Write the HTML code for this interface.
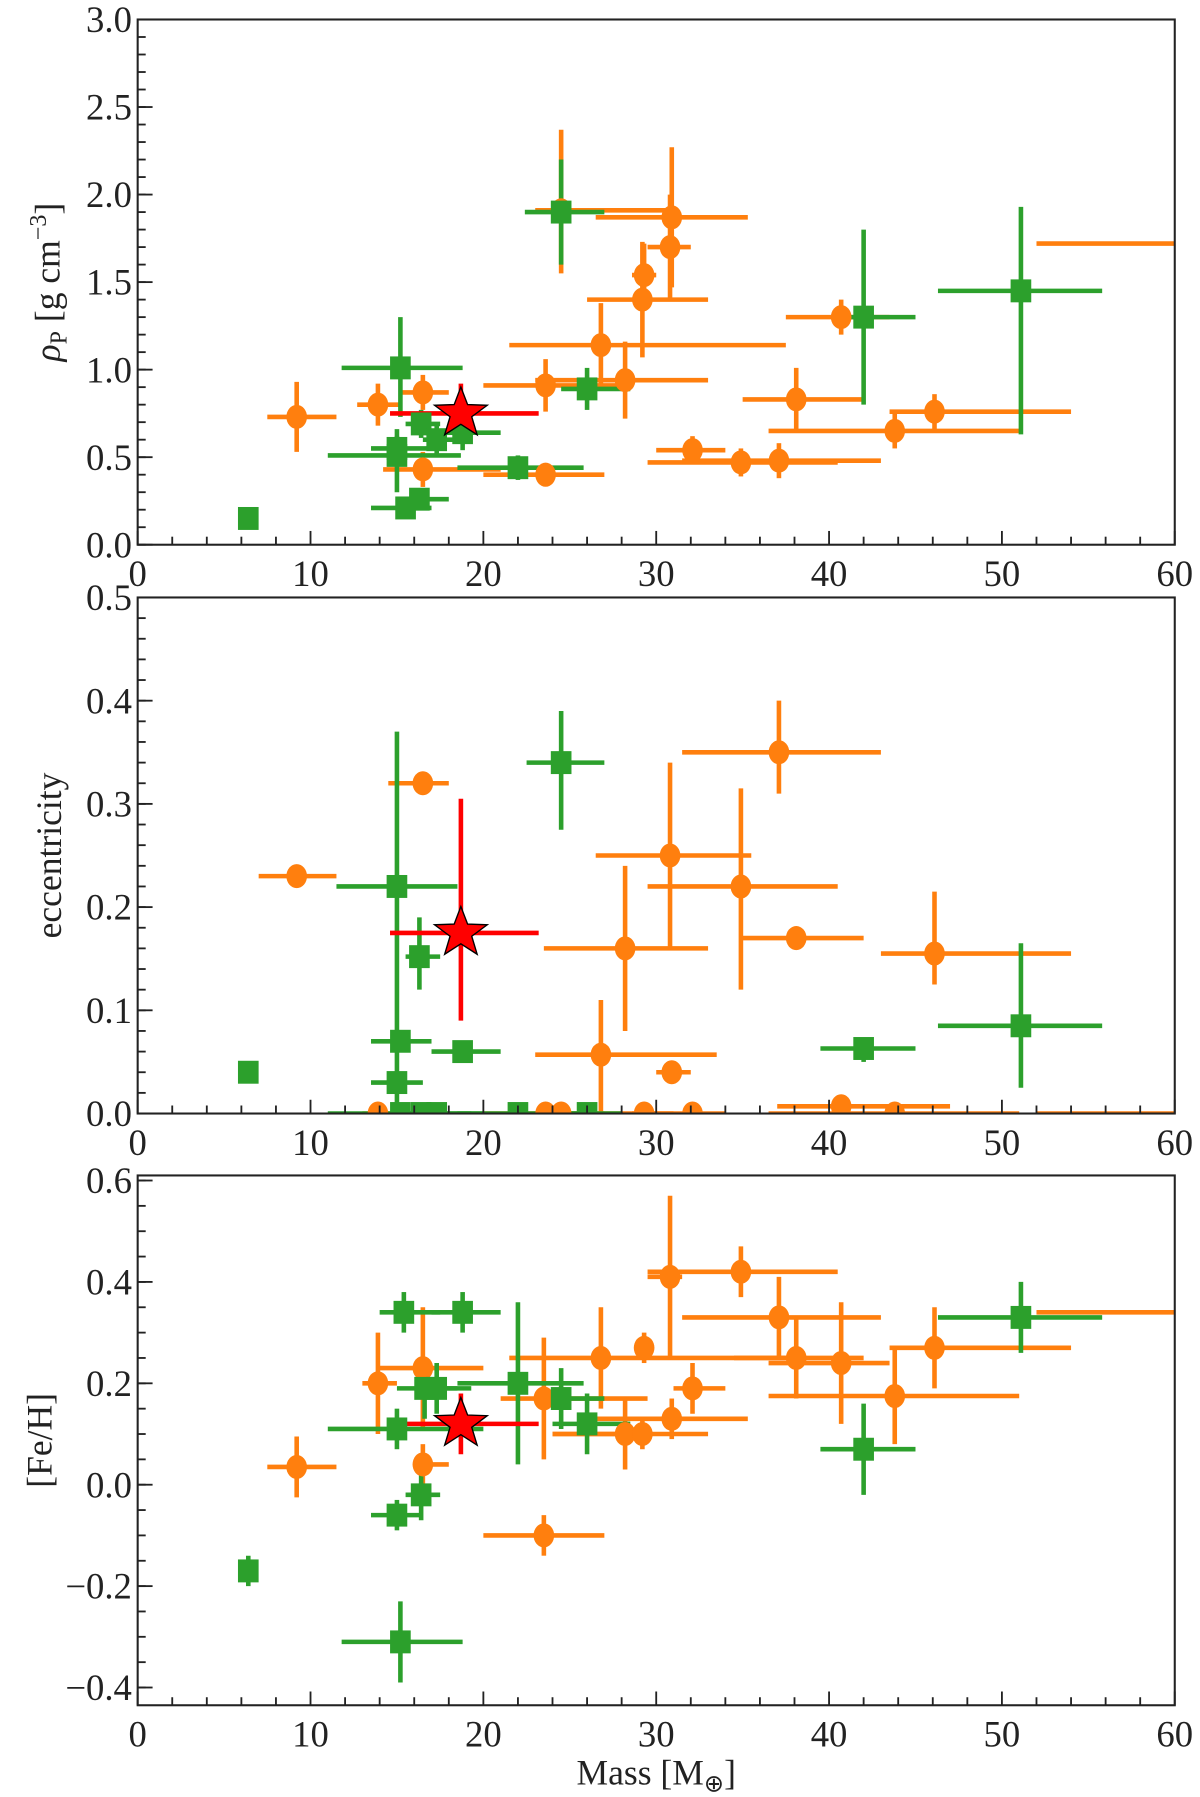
<!DOCTYPE html>
<html><head><meta charset="utf-8"><style>
html,body{margin:0;padding:0;background:#fff}
svg{display:block}
text{font-family:"Liberation Serif",serif;fill:#222}
</style></head><body>
<svg id="chart" width="1200" height="1797" viewBox="0 0 1046 1567" preserveAspectRatio="none" xmlns="http://www.w3.org/2000/svg">
<defs>
<clipPath id="c0"><rect x="120" y="17" width="904" height="458"/></clipPath>
<clipPath id="c1"><rect x="120" y="521" width="904" height="450"/></clipPath>
<clipPath id="c2"><rect x="120" y="1025" width="904" height="462"/></clipPath>
</defs>
</svg>
<script>
// each record: [mass, massLo, massHi, value, valueLo, valueHi]
const densityOrange=[[9.2,7.5,11.5,0.73,0.53,0.93],[13.9,12.7,15.1,0.80,0.68,0.92],[16.5,15.2,18.0,0.87,0.77,0.97],[16.5,14.2,21.0,0.43,0.33,0.53],[23.6,20.0,27.0,0.40,0.35,0.45],[23.6,20.0,28.5,0.91,0.76,1.06],[24.5,23.0,31.0,1.91,1.55,2.37],[26.8,21.5,37.5,1.14,0.90,1.38],[28.2,23.0,33.0,0.94,0.72,1.16],[29.2,26.0,33.0,1.40,1.07,1.73],[29.3,28.6,30.0,1.54,1.36,1.72],[30.8,29.5,32.0,1.70,1.40,2.00],[30.9,26.5,35.3,1.87,1.47,2.27],[32.1,30.0,34.0,0.54,0.46,0.62],[34.9,29.5,40.5,0.47,0.39,0.55],[37.1,31.5,43.0,0.48,0.38,0.58],[38.1,35.0,42.0,0.83,0.65,1.01],[40.7,37.5,43.5,1.30,1.20,1.40],[43.8,36.5,51.0,0.65,0.55,0.75],[46.1,43.5,54.0,0.76,0.66,0.86],[64.0,52.0,76.0,1.72,1.72,1.72]];
const densityGreen=[[6.4,5.9,6.9,0.15,0.11,0.19],[15.0,11.0,18.7,0.51,0.30,0.66],[15.0,13.5,17.0,0.55,0.48,0.62],[15.2,11.8,18.8,1.01,0.73,1.30],[15.5,13.5,17.0,0.21,0.16,0.26],[16.3,15.0,18.0,0.26,0.21,0.31],[16.4,15.5,17.5,0.69,0.61,0.77],[17.3,16.5,19.3,0.60,0.52,0.68],[18.8,17.5,21.0,0.64,0.54,0.74],[22.0,18.5,25.8,0.44,0.37,0.51],[24.5,22.4,27.0,1.90,1.60,2.20],[26.0,24.5,28.5,0.89,0.77,1.01],[42.0,41.0,45.0,1.30,0.80,1.80],[51.1,46.3,55.8,1.45,0.63,1.93]];
const densityStar=[[18.7,14.6,23.2,0.75,0.58,0.92]];
const eccOrange=[[9.2,7.0,11.5,0.23,0.23,0.23],[16.5,14.5,18.0,0.32,0.32,0.32],[13.9,13.0,15.0,0.0,0.0,0.0],[23.6,20.0,27.0,0.0,0.0,0.0],[24.5,23.0,31.0,0.0,0.0,0.0],[29.3,28.6,30.0,0.0,0.0,0.0],[32.1,30.0,34.0,0.0,0.0,0.0],[43.8,36.5,51.0,0.0,0.0,0.0],[40.7,37.0,47.0,0.007,0.007,0.007],[26.8,23.0,33.5,0.057,0.0,0.11],[28.2,23.5,33.0,0.16,0.08,0.24],[30.8,26.5,35.5,0.25,0.16,0.34],[30.9,30.0,32.0,0.04,0.03,0.05],[34.9,29.5,40.5,0.22,0.12,0.315],[37.1,31.5,43.0,0.35,0.31,0.40],[38.1,35.0,42.0,0.17,0.17,0.17],[46.1,43.0,54.0,0.155,0.125,0.215],[64.0,52.0,76.0,0.0,0.0,0.0]];
const eccGreen=[[6.4,5.9,6.9,0.04,0.035,0.045],[15.0,11.5,18.5,0.22,0.0,0.37],[16.3,15.5,17.5,0.152,0.12,0.19],[15.2,13.5,17.0,0.07,0.06,0.08],[15.0,13.5,16.5,0.03,0.02,0.04],[18.8,17.0,21.0,0.06,0.055,0.065],[24.5,22.5,27.0,0.34,0.275,0.39],[42.0,39.5,45.0,0.063,0.05,0.07],[51.1,46.3,55.8,0.085,0.025,0.165],[15.2,11.0,20.0,0.0,0.0,0.0],[16.4,15.5,17.5,0.0,0.0,0.0],[17.3,16.5,19.3,0.0,0.0,0.0],[22.0,18.5,26.0,0.0,0.0,0.0],[26.0,24.0,28.0,0.0,0.0,0.0]];
const eccStar=[[18.7,14.6,23.2,0.175,0.09,0.305]];
const fehOrange=[[9.2,7.5,11.5,0.035,-0.025,0.095],[13.9,13.0,15.0,0.20,0.10,0.30],[16.5,14.0,20.0,0.23,0.11,0.35],[16.5,16.0,18.0,0.04,0.0,0.08],[23.5,20.0,27.0,-0.10,-0.14,-0.06],[23.5,21.0,29.5,0.17,0.05,0.29],[26.8,21.5,37.5,0.25,0.15,0.35],[28.2,24.0,29.0,0.10,0.03,0.17],[29.2,24.0,33.0,0.10,0.07,0.13],[29.3,28.8,29.8,0.27,0.24,0.30],[30.8,29.5,31.5,0.41,0.25,0.57],[30.9,26.5,35.3,0.13,0.09,0.17],[32.1,31.0,34.0,0.19,0.14,0.24],[34.9,29.5,40.5,0.42,0.37,0.47],[37.1,31.5,43.0,0.33,0.25,0.41],[38.1,34.5,42.0,0.25,0.17,0.33],[40.7,36.5,43.5,0.24,0.12,0.36],[43.8,36.5,51.0,0.175,0.08,0.27],[46.1,43.5,54.0,0.27,0.19,0.35],[64.0,52.0,76.0,0.34,0.34,0.34]];
const fehGreen=[[6.4,5.9,6.9,-0.17,-0.20,-0.14],[15.0,13.5,16.5,-0.06,-0.09,-0.03],[15.2,11.8,18.8,-0.31,-0.39,-0.23],[15.0,11.0,20.0,0.11,0.07,0.15],[15.4,14.0,17.5,0.34,0.30,0.38],[16.4,15.5,17.5,-0.02,-0.07,0.03],[16.6,15.0,18.5,0.19,0.13,0.25],[17.3,16.5,19.3,0.19,0.14,0.24],[18.8,17.0,21.0,0.34,0.30,0.38],[22.0,18.5,25.8,0.20,0.04,0.36],[24.5,24.0,27.0,0.17,0.11,0.23],[26.0,24.0,28.5,0.12,0.06,0.18],[42.0,39.5,45.0,0.07,-0.02,0.16],[51.1,46.3,55.8,0.33,0.26,0.40]];
const fehStar=[[18.7,14.6,23.2,0.12,0.06,0.18]];
const xTicks=[0,10,20,30,40,50,60];
const densityTicks=["0.0","0.5","1.0","1.5","2.0","2.5","3.0"];
const eccTicks=["0.0","0.1","0.2","0.3","0.4","0.5"];
const fehTicks=["\u22120.4","\u22120.2","0.0","0.2","0.4","0.6"];

const NS="http://www.w3.org/2000/svg";
const svg=document.getElementById('chart');
const X0=120,X1=1024;
const sx=v=>X0+(v/60)*(X1-X0);
function mk(tag,attrs,parent){const e=document.createElementNS(NS,tag);for(const k in attrs)e.setAttribute(k,attrs[k]);(parent||svg).appendChild(e);return e;}

const panels=[
 {name:'density',top:17,bot:475,ymin:0,ymax:3.0,majors:densityTicks,minorStep:0.1,clip:'c0',data:[densityOrange,densityGreen,densityStar]},
 {name:'eccentricity',top:521,bot:971,ymin:0,ymax:0.5,majors:eccTicks,minorStep:0.02,clip:'c1',data:[eccOrange,eccGreen,eccStar]},
 {name:'metallicity',top:1025,bot:1487,ymin:-0.435,ymax:0.61,majors:fehTicks,minorStep:0.05,clip:'c2',data:[fehOrange,fehGreen,fehStar]}
];
const colors=['#ff7f0e','#2ca02c','#ff0000'];
panels.forEach((p,pi)=>{
 const sy=v=>p.bot-(v-p.ymin)/(p.ymax-p.ymin)*(p.bot-p.top);
 const g=mk('g',{});
 
 
 const plot=mk('g',{'clip-path':'url(#'+p.clip+')'},g);
 
 
 p.data.forEach((series,si)=>{
  series.forEach(d=>{
   const c=colors[si];
   const w=4;
   const h=mk('line',{x1:sx(d[1]),x2:sx(d[2]),y1:sy(d[3]),y2:sy(d[3]),stroke:c,'stroke-width':w},plot);
   
   
   if(d[5]>d[4]){const v=mk('line',{x1:sx(d[0]),x2:sx(d[0]),y1:sy(d[4]),y2:sy(d[5]),stroke:c,'stroke-width':w},plot);
   
   }
  });
 });
 p.data.forEach((series,si)=>{
  series.forEach(d=>{
   const cx=sx(d[0]),cy=sy(d[3]);let m;
   if(si==0){m=mk('ellipse',{cx:cx,cy:cy,rx:9,ry:10.5,fill:colors[0]},plot);}
   else if(si==1){m=mk('rect',{x:cx-9,y:cy-10,width:18,height:20,fill:colors[1]},plot);}
   else{let pts=[];for(let k=0;k<10;k++){const r=k%2?9.5:23;const a=-Math.PI/2+k*Math.PI/5;pts.push((cx+r*Math.cos(a)*1.05).toFixed(1)+','+(cy+r*Math.sin(a)).toFixed(1));}
    m=mk('polygon',{points:pts.join(' '),fill:'#ff0000',stroke:'#000','stroke-width':1.2},plot);}
   
  });
 });
 const fr=mk('rect',{x:X0,y:p.top,width:X1-X0,height:p.bot-p.top,fill:'none',stroke:'#222','stroke-width':1.8},g);
 
 
 for(let v=0;v<=60;v+=2){const maj=v%10==0;mk('line',{x1:sx(v),x2:sx(v),y1:p.bot,y2:p.bot-(maj?12:7),stroke:'#222','stroke-width':1.6},g);}
 xTicks.forEach(v=>{const t=mk('text',{x:sx(v),y:p.bot+36,'text-anchor':'middle','font-size':32},g);t.textContent=v;
  });
 const start=Math.ceil(p.ymin/p.minorStep-1e-6);
 for(let k=start;k*p.minorStep<=p.ymax+1e-9;k++){const v=k*p.minorStep;mk('line',{x1:X0,x2:X0+7,y1:sy(v),y2:sy(v),stroke:'#222','stroke-width':1.6},g);}
 p.majors.forEach(s=>{const v=parseFloat(s.replace('\u2212','-'));const y=sy(v);
  mk('line',{x1:X0,x2:X0+13,y1:y,y2:y,stroke:'#222','stroke-width':1.6},g);
  const t=mk('text',{x:X0-5,y:y+11,'text-anchor':'end','font-size':32},g);t.textContent=s;
  });
});
</script>
<svg style="position:absolute;left:0;top:0" width="1200" height="1797" viewBox="0 0 1046 1567" preserveAspectRatio="none">
<text transform="translate(52,246) rotate(-90)" text-anchor="middle" font-size="31" style="font-family:'Liberation Serif',serif"><tspan font-style="italic">ρ</tspan><tspan font-size="21" dy="6">P</tspan><tspan dy="-6"> [g cm</tspan><tspan font-size="21" dy="-12">−3</tspan><tspan dy="12">]</tspan></text>
<text transform="translate(53,746) rotate(-90)" text-anchor="middle" font-size="31" style="font-family:'Liberation Serif',serif">eccentricity</text>
<text transform="translate(45,1256) rotate(-90)" text-anchor="middle" font-size="31" style="font-family:'Liberation Serif',serif">[Fe/H]</text>
<text x="572" y="1556" text-anchor="middle" font-size="31" style="font-family:'Liberation Serif',serif">Mass [M<tspan font-size="21" dy="6">⊕</tspan><tspan dy="-6">]</tspan></text>
</svg>
</body></html>
